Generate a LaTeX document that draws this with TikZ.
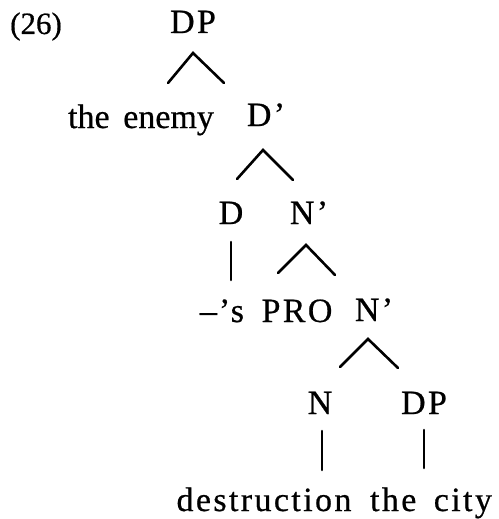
\documentclass[tikz,border=0pt]{standalone}
\usepackage{fontspec}
\setmainfont{Liberation Serif}[LetterSpace=7,WordSpace=1.6,FakeBold=0.6]
\newfontfamily\numfont{Liberation Serif}[FakeBold=0.6]
\newfontfamily\closefont{Liberation Serif}[WordSpace=1.6,FakeBold=0.6]
\begin{document}
\begin{tikzpicture}[x=1pt,y=-1pt,
  lbl/.style={anchor=base,inner sep=0pt,font=\fontsize{34}{38}\selectfont},
  branch/.style={line width=2.6pt,line cap=round,line join=miter}]
\useasboundingbox (0,0) rectangle (498,519);
% example number
\node[anchor=base,inner sep=0pt,font=\fontsize{31}{35}\numfont] (ex) at (36,34) {(26)};
% labels of the tree
\node[lbl] (dp)   at (193,33)  {DP};
\node[lbl,font=\fontsize{34}{38}\closefont] (spec) at (141,128) {the enemy};
\node[lbl] (dbar) at (266,126) {D’};
\node[lbl] (d)    at (231,224) {D};
\node[lbl] (nb1)  at (309,224) {N’};
\node[lbl] (poss) at (222,322) {\textendash\kern2pt’s};
\node[lbl] (pro)  at (297,322) {PRO};
\node[lbl] (nb2)  at (374,321) {N’};
\node[lbl] (n)    at (320,414) {N};
\node[lbl] (obj)  at (424,414) {DP};
\node[lbl] (head) at (264,511) {destruction};
\node[lbl] (city) at (431,511) {the city};
% end points of the branches
\coordinate (a1l) at (168,83);  \coordinate (a1t) at (193,53);  \coordinate (a1r) at (224,83);
\coordinate (a2l) at (237,179); \coordinate (a2t) at (263,150); \coordinate (a2r) at (293,180);
\coordinate (a3l) at (278,273); \coordinate (a3t) at (306,245); \coordinate (a3r) at (335,275);
\coordinate (a4l) at (340,367); \coordinate (a4t) at (368,339); \coordinate (a4r) at (398,368);
\coordinate (v1t) at (231,242); \coordinate (v1b) at (231,280);
\coordinate (v2t) at (322,431); \coordinate (v2b) at (322,470);
\coordinate (v3t) at (424,430); \coordinate (v3b) at (424,468);
% branches
\draw[branch] (a1l) -- (a1t) -- (a1r);
\draw[branch] (a2l) -- (a2t) -- (a2r);
\draw[branch] (a3l) -- (a3t) -- (a3r);
\draw[branch] (a4l) -- (a4t) -- (a4r);
\draw[branch] (v1t) -- (v1b);
\draw[branch] (v2t) -- (v2b);
\draw[branch] (v3t) -- (v3b);
\end{tikzpicture}
\end{document}
